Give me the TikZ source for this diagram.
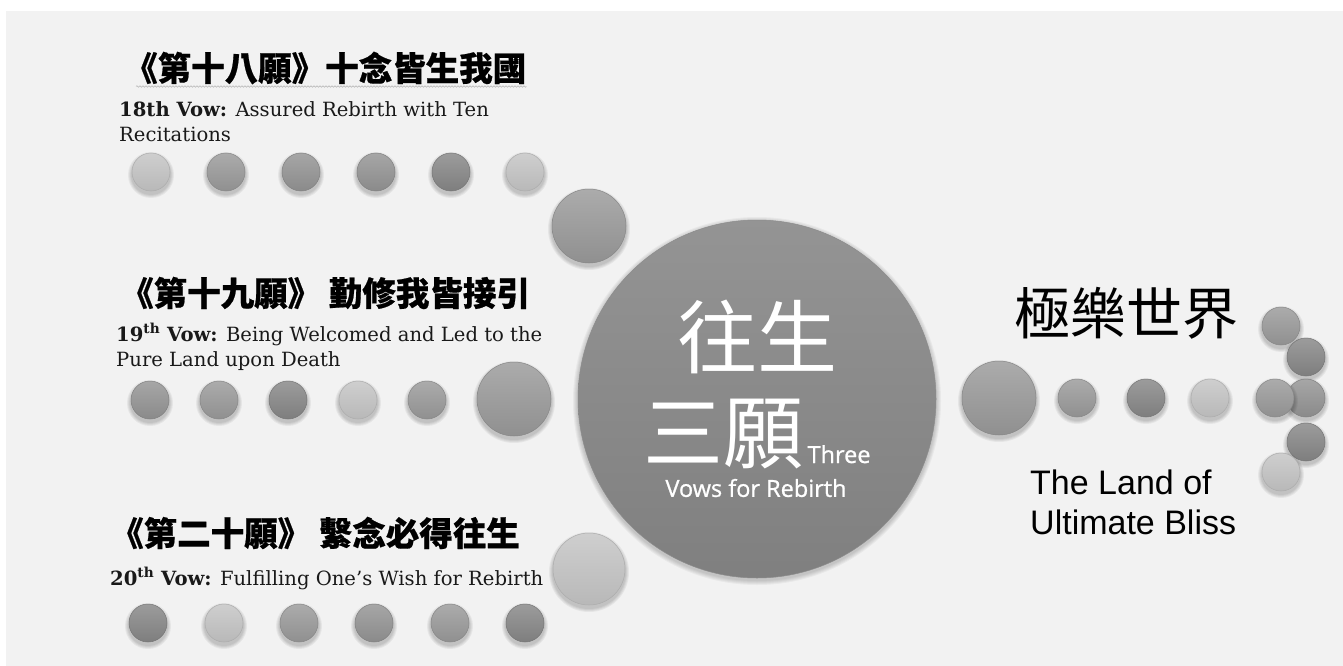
\documentclass[tikz,border=0pt]{standalone}
\usepackage{fontspec}
\setmainfont{DejaVu Serif}
\newfontfamily\cjk{Noto Sans CJK TC}
\newfontfamily\cjkh{Noto Sans CJK TC}[BoldFeatures={FakeBold=0.6}]
\newfontfamily\osans{Open Sans}[FakeBold=0.9]
\newfontfamily\lsans{Liberation Sans}
\usetikzlibrary{decorations.pathmorphing}
\definecolor{bg}{HTML}{F2F2F2}
\definecolor{cL}{HTML}{C4C4C4}
\definecolor{cM}{HTML}{999999}
\definecolor{cN}{HTML}{939393}
\definecolor{cD}{HTML}{868686}
\newcommand\myball[5]{%
  \foreach \k in {4,3,2,1}{\fill[black,opacity=0.05] (#2,#3+3) circle[radius={(#4+\k)*1pt}];}
  \node[ball, minimum size={2*#4}, top color=#5!82!white, bottom color=#5!94!black, draw=#5!88!black] (#1) at (#2,#3) {};
}
\tikzset{
  ball/.style={circle, inner sep=0pt, line width=0.5pt},
  ttl/.style={anchor=west, inner sep=0pt, font=\cjkh\bfseries\fontsize{33.5}{38}\selectfont},
  sub/.style={anchor=north west, inner sep=0pt, align=left, text=black!90, font=\fontsize{19.6}{25}\selectfont},
}
\begin{document}
\begin{tikzpicture}[x=1pt,y=-1pt]
\useasboundingbox (0,0) rectangle (1343,666);
\fill[white] (0,0) rectangle (1343,666);
\fill[bg] (6,11) rectangle (1343,666);

% titles
\node[ttl] (t1) at (124,68) {《第十八願》十念皆生我國};
\draw[gray!60, line width=0.5pt, decorate, decoration={snake, amplitude=0.8pt, segment length=3pt}]
  ([xshift=12pt,yshift=-2pt]t1.south west) -- ([yshift=-2pt]t1.south east);
\node[sub] (s1) at (119,101) {\textbf{18th Vow:} Assured Rebirth with Ten\\Recitations};

\node[ttl] (t2) at (120,293) {《第十九願》 勤修我皆接引};
\node[sub] (s2) at (116,323) {\textbf{19\textsuperscript{th} Vow:} Being Welcomed and Led to the\\Pure Land upon Death};

\node[ttl] (t3) at (110,533) {《第二十願》 繫念必得往生};
\node[sub] (s3) at (110,567) {\textbf{20\textsuperscript{th} Vow:} Fulfilling One’s Wish for Rebirth};

% balls row 1
\myball{a1}{151}{172}{19}{cL}
\myball{a2}{226}{172}{19}{cM}
\myball{a3}{301}{172}{19}{cN}
\myball{a4}{376}{172}{19}{cN}
\myball{a5}{451}{172}{19}{cD}
\myball{a6}{525}{172}{19}{cL}
\myball{a7}{589}{226}{37}{cM}
% row 2
\myball{b1}{150}{400}{19}{cN}
\myball{b2}{219}{400}{19}{cM}
\myball{b3}{288}{400}{19}{cD}
\myball{b4}{358}{400}{19}{cL}
\myball{b5}{427}{400}{19}{cM}
\myball{b6}{514}{399}{37}{cM}
% row 3
\myball{c1}{148}{623}{19}{cD}
\myball{c2}{224}{623}{19}{cL}
\myball{c3}{299}{623}{19}{cM}
\myball{c4}{374}{623}{19}{cN}
\myball{c5}{450}{623}{19}{cM}
\myball{c6}{525}{623}{19}{cD}
\myball{c7}{589}{569}{36}{cL}

% center
\foreach \k in {5,4,3,2,1}{\fill[black,opacity=0.04] (757,401) circle[radius={(179+\k)*1pt}];}
\node[circle, inner sep=0pt, minimum size=358, top color=black!42, bottom color=black!50, draw=black!45, line width=0.5pt] (ctr) at (757,399) {};
\node[text=white, inner sep=0pt, font=\cjk\fontsize{80}{80}\selectfont] (w1) at (757,337) {往生};
\node[text=white, inner sep=0pt, anchor=base west, font=\cjk\fontsize{80}{80}\selectfont] (w2) at (643,462) {三願};
\node[text=white, inner sep=0pt, anchor=base west, font=\osans\fontsize{23.5}{26}\selectfont] (w3) at ([xshift=4pt,yshift=-1pt]w2.base east) {Three};
\node[text=white, inner sep=0pt, font=\osans\fontsize{23.5}{26}\selectfont] (w4) at (756,488) {Vows for Rebirth};

% right
\myball{d1}{999}{398}{37}{cM}
\myball{d2}{1077}{398}{19}{cM}
\myball{d3}{1146}{398}{19}{cD}
\myball{d4}{1210}{398}{19}{cL}
\myball{e1}{1281}{326}{19}{cM}
\myball{e2}{1306}{357}{19}{cD}
\myball{e3}{1306}{398}{19}{cN}
\myball{e4}{1275}{398}{19}{cM}
\myball{e5}{1306}{442}{19}{cD}
\myball{e6}{1281}{472}{19}{cL}

\node[inner sep=0pt, font=\cjk\fontsize{56}{56}\selectfont] (r1) at (1126,313) {極樂世界};
\node[inner sep=0pt, anchor=north west, align=left, font=\lsans\fontsize{34}{40}\selectfont] (r2) at (1030,470) {The Land of\\Ultimate Bliss};
\end{tikzpicture}
\end{document}
